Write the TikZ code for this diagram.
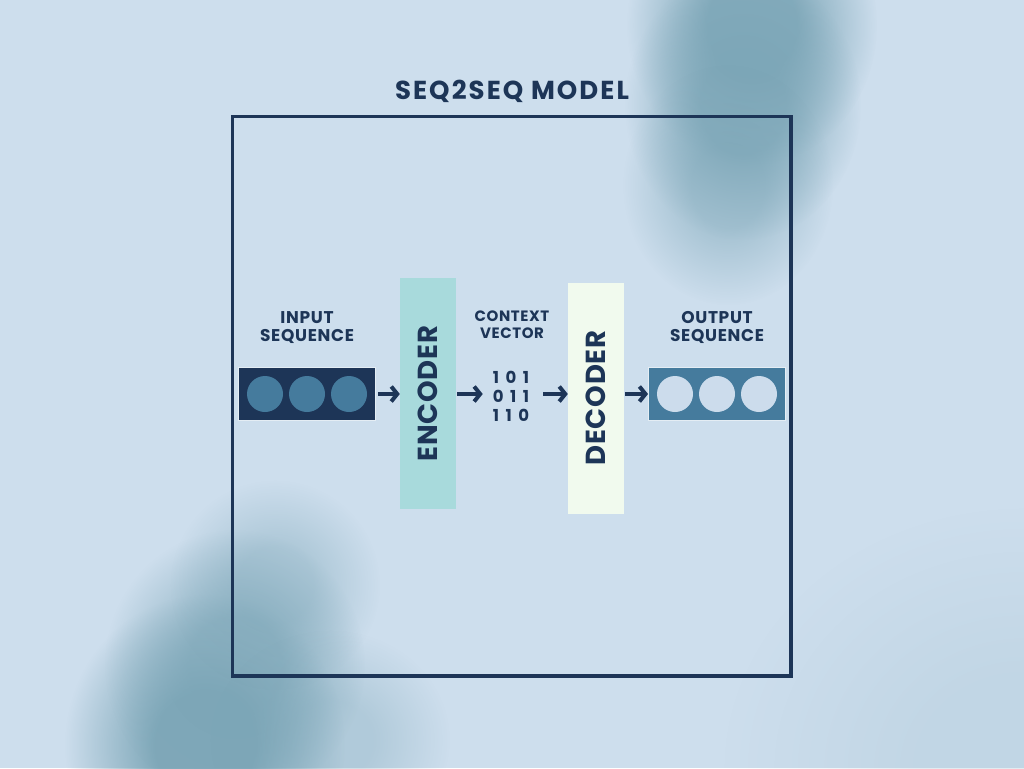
\documentclass[tikz,border=0pt]{standalone}
\usepackage{fontspec}
\setmainfont{Poppins}
\usetikzlibrary{arrows.meta,fadings}
\definecolor{bgc}{HTML}{CDDEED}
\definecolor{blobc}{HTML}{7CA6B7}
\definecolor{navy}{HTML}{1D3557}
\definecolor{steel}{HTML}{457B9D}
\definecolor{aqua}{HTML}{A8DADC}
\definecolor{mint}{HTML}{F1FAEE}
\definecolor{pale}{HTML}{CCDCEC}
\definecolor{edge}{HTML}{E4EDF4}
\pgfdeclareradialshading{blobfadeshade}{\pgfpointorigin}{color(0bp)=(pgftransparent!0); color(9bp)=(pgftransparent!0); color(25bp)=(pgftransparent!100); color(50bp)=(pgftransparent!100)}
\pgfdeclarefading{blobfade}{\pgfuseshading{blobfadeshade}}
\tikzset{
  blob/.style={fill=blobc, path fading=blobfade},
  lbl/.style={font=\bfseries\fontsize{17}{18}\selectfont\addfontfeatures{LetterSpace=4}, text=navy, align=center, inner sep=0},
  bar/.style={minimum width=56pt, minimum height=231pt, inner sep=0, font=\bfseries\fontsize{27.5}{30}\selectfont\addfontfeatures{LetterSpace=3}, text=navy},
  seqbox/.style={minimum width=137pt, minimum height=53pt, inner sep=0, draw=edge, line width=1pt},
  dot/.style={circle, minimum size=36pt, inner sep=0},
  arr/.style={draw=navy, line width=4pt, -{Straight Barb[length=6pt,width=15pt]}},
}
\newcommand{\dg}{\hspace{6.5pt}}
\begin{document}
\begin{tikzpicture}[x=1pt,y=-1pt]
\useasboundingbox (0,0) rectangle (1024,768);
\fill[bgc] (0,0) rectangle (1024,768);
\begin{scope}
\clip (0,0) rectangle (1024,768);
% top-right blob
\fill[blob, opacity=0.9] (752,25) ellipse [x radius=125, y radius=140];
\fill[blob, opacity=0.8] (743,105) ellipse [x radius=118, y radius=135];
\fill[blob, opacity=0.5] (728,185) ellipse [x radius=105, y radius=120];
% bottom-left blob
\fill[blob, opacity=0.95] (205,745) ellipse [x radius=140, y radius=150];
\fill[blob, opacity=0.7] (235,665) ellipse [x radius=130, y radius=135];
\fill[blob, opacity=0.4] (275,585) ellipse [x radius=105, y radius=105];
\fill[blob, opacity=0.35] (330,740) ellipse [x radius=120, y radius=110];
% faint bottom-right tint
\fill[blobc!40!bgc, opacity=0.35, path fading=blobfade] (1024,768) ellipse [x radius=300, y radius=260];
\end{scope}
% title and frame
\node[font=\bfseries\fontsize{26}{30}\selectfont\addfontfeatures{LetterSpace=8}, text=navy, anchor=base, inner sep=0] (title) at (512,99) {SEQ2SEQ MODEL};
\draw[navy, line width=3.5pt] (232.5,116.5) rectangle (791,676);
% sequence boxes
\node[seqbox, fill=navy] (inbox) at (307,394) {};
\foreach \x/\n in {265/a,307/b,349/c} \node[dot, fill=steel] (in\n) at (\x,394) {};
\node[seqbox, fill=steel] (outbox) at (717,394) {};
\foreach \x/\n in {675/a,717/b,759/c} \node[dot, fill=pale] (out\n) at (\x,394) {};
% bars
\node[bar, fill=aqua] (enc) at (428,393.5) {\rotatebox{90}{ENCODER}};
\node[bar, fill=mint] (dec) at (596,398) {\rotatebox{90}{DECODER}};
% labels
\node[lbl, anchor=base] (inlbl) at (307,341) {INPUT\\SEQUENCE};
\node[lbl, anchor=base] (outlbl) at (717,341) {OUTPUT\\SEQUENCE};
\node[lbl, anchor=base, font=\bfseries\fontsize{15}{16.5}\selectfont\addfontfeatures{LetterSpace=4}] (ctxlbl) at (512,338) {CONTEXT\\VECTOR};
\node[lbl, anchor=base, font=\bfseries\fontsize{16.5}{19}\selectfont] (ctx) at (511,421) {1\dg0\dg1\\0\dg1\dg1\\1\dg1\dg0};
% arrows
\draw[arr, shorten <=2pt] (inbox.east) -- (inbox.east -| enc.west);
\draw[arr, shorten <=1pt, shorten >=10pt] (enc.east |- inbox.east) -- (ctx.west |- inbox.east);
\draw[arr, shorten <=14pt] (ctx.east |- inbox.east) -- (dec.west |- inbox.east);
\draw[arr, shorten <=1pt] (dec.east |- inbox.east) -- (outbox.west);
\end{tikzpicture}
\end{document}
